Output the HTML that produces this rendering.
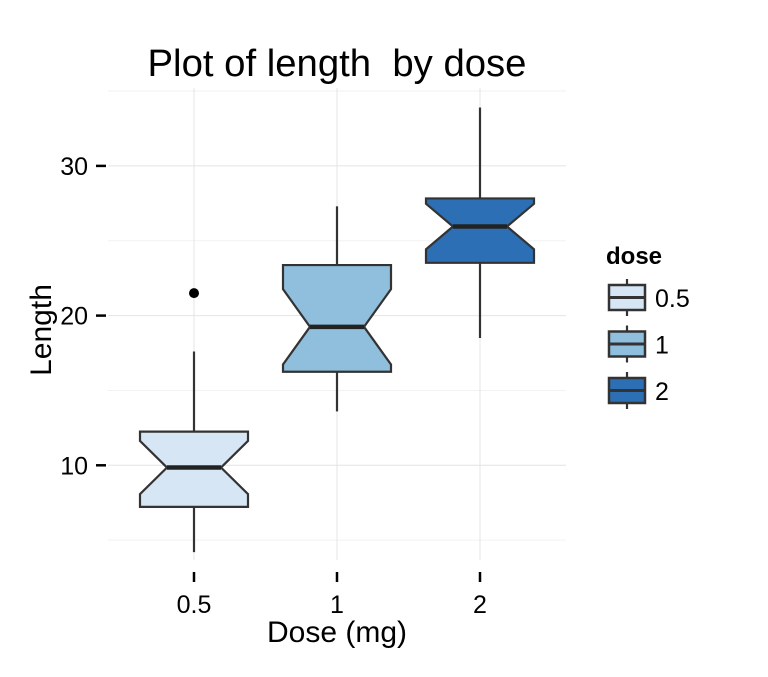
<!DOCTYPE html>
<html><head><meta charset="utf-8"><style>
body{margin:0;background:#fff;}
svg text{font-family:"Liberation Sans",Arial,sans-serif;white-space:pre;}
</style></head><body>
<svg id="chart" width="768" height="672" xmlns="http://www.w3.org/2000/svg">
<text x="337" y="76" font-size="38.3" text-anchor="middle" fill="#000" xml:space="preserve">Plot of length  by dose</text>
<g id="grid"></g>
<g id="axes"></g>
<g id="boxes"></g>
<text x="337" y="642" font-size="30" text-anchor="middle">Dose (mg)</text>
<text transform="translate(51,330) rotate(-90)" font-size="30" text-anchor="middle">Length</text>
<g id="legend">
<text x="606" y="264" font-size="24" font-weight="bold">dose</text>
</g>
</svg>
<script>
const categories=["0.5","1","2"];
const mins=[4.2,13.6,18.5];
const q1s=[7.225,16.25,23.525];
const medians=[9.85,19.25,25.95];
const q3s=[12.25,23.375,27.825];
const maxs=[17.6,27.3,33.9];
const outliers=[[21.5],[],[]];
const counts=[20,20,20];
const fills=["#d6e6f4","#8fbfdc","#2c6fb4"];
const yTicks=[10,20,30];
const yMinor=[5,15,25,35];
const NS="http://www.w3.org/2000/svg";
const L=108,R=566,T=88,B=560;
const y=v=>615-v*14.97;
const x=i=>194+i*143;
function mk(tag,at,parent){const e=document.createElementNS(NS,tag);for(const k in at)e.setAttribute(k,at[k]);parent.appendChild(e);return e;}
const grid=document.getElementById('grid'),axes=document.getElementById('axes'),boxes=document.getElementById('boxes'),leg=document.getElementById('legend');
yMinor.forEach(v=>{const l=mk('line',{x1:L,x2:R,y1:y(v),y2:y(v),stroke:'#f2f2f2','stroke-width':1},grid);

});
yTicks.forEach(v=>{const l=mk('line',{x1:L,x2:R,y1:y(v),y2:y(v),stroke:'#e4e4e4','stroke-width':1},grid);


const t=mk('line',{x1:96,x2:106,y1:y(v),y2:y(v),stroke:'#000','stroke-width':2.5},axes);


const tx=mk('text',{x:88,y:y(v)+9,'font-size':25,'text-anchor':'end'},axes);tx.textContent=v;

});
categories.forEach((c,i)=>{const g=mk('line',{x1:x(i),x2:x(i),y1:T,y2:B,stroke:'#e4e4e4','stroke-width':1},grid);


const t=mk('line',{x1:x(i),x2:x(i),y1:572,y2:582,stroke:'#000','stroke-width':2.5},axes);


const tx=mk('text',{x:x(i),y:613,'font-size':25,'text-anchor':'middle'},axes);tx.textContent=c;


const cx=x(i),hw=54,nw=27;
const iqr=q3s[i]-q1s[i],nd=1.58*iqr/Math.sqrt(counts[i]);
const wh1=mk('line',{x1:cx,x2:cx,y1:y(maxs[i]),y2:y(q3s[i]),stroke:'#333','stroke-width':2.2},boxes);


const wh2=mk('line',{x1:cx,x2:cx,y1:y(q1s[i]),y2:y(mins[i]),stroke:'#333','stroke-width':2.2},boxes);


const pts=[[cx-hw,y(q3s[i])],[cx+hw,y(q3s[i])],[cx+hw,y(medians[i]+nd)],[cx+nw,y(medians[i])],[cx+hw,y(medians[i]-nd)],[cx+hw,y(q1s[i])],[cx-hw,y(q1s[i])],[cx-hw,y(medians[i]-nd)],[cx-nw,y(medians[i])],[cx-hw,y(medians[i]+nd)]];
const p=mk('polygon',{points:pts.map(q=>q.join(',')).join(' '),fill:fills[i],stroke:'#333','stroke-width':2.2},boxes);


const m=mk('line',{x1:cx-nw,x2:cx+nw,y1:y(medians[i]),y2:y(medians[i]),stroke:'#222','stroke-width':4.5},boxes);


outliers[i].forEach(o=>{const d=mk('circle',{cx:cx,cy:y(o),r:5,fill:'#000'},boxes);

});
const ly=285+i*46.5;
const lw=mk('line',{x1:627,x2:627,y1:ly-6,y2:ly+31,stroke:'#333','stroke-width':2.2},leg);


const lr=mk('rect',{x:609,y:ly,width:36,height:25,fill:fills[i],stroke:'#333','stroke-width':2.5},leg);


const lm=mk('line',{x1:609,x2:645,y1:ly+12.5,y2:ly+12.5,stroke:'#333','stroke-width':3},leg);


const lt=mk('text',{x:655,y:ly+22,'font-size':25},leg);lt.textContent=c;


});
</script>
</body></html>
